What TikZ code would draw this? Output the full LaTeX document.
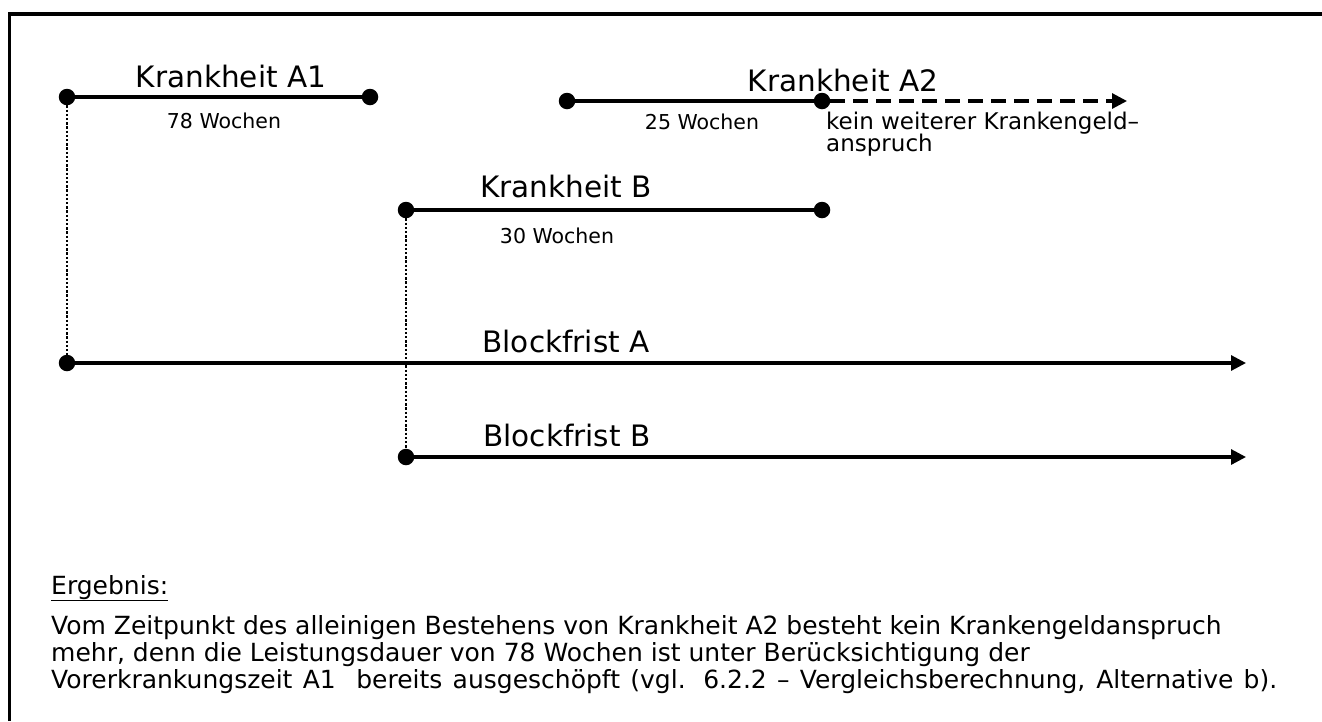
\documentclass[tikz,border=0pt]{standalone}
\usepackage{fontspec}
\setmainfont{DejaVu Sans}
\usetikzlibrary{arrows.meta}
\begin{document}
\begin{tikzpicture}[x=1pt,y=-1pt,
  dot/.style={circle,fill=black,inner sep=0pt,minimum size=16.5pt},
  tline/.style={line width=3.1pt},
  arr/.style={line width=3.1pt,-{Triangle[length=15pt,width=15pt]}},
  dashline/.style={line width=3.1pt,dash pattern=on 15pt off 8pt,-{Triangle[length=15pt,width=15pt]}},
  vline/.style={line width=2.6pt,dash pattern=on 2.4pt off 1.8pt},
  title/.style={font=\fontsize{29.5}{34}\selectfont,inner sep=0pt,anchor=base},
  lbl/.style={font=\fontsize{20.5}{24}\selectfont,inner sep=0pt,anchor=base},
  note/.style={font=\fontsize{23}{26}\selectfont,inner sep=0pt,anchor=base west},
  body/.style={font=\fontsize{25}{30}\selectfont,inner sep=0pt,anchor=base west}]
\useasboundingbox (0,0) rectangle (1322,721);
\fill[white] (0,0) rectangle (1322,721);
% frame
\coordinate (fbl) at (9.5,721);
\coordinate (ftl) at (9.5,13.7);
\coordinate (ftr) at (1322,13.7);
\draw[line width=3.8pt] (fbl) -- (ftl) -- (ftr);

% Krankheit A1
\node[dot] (a1s) at (67,97) {};
\node[dot] (a1e) at (370,97) {};
\draw[tline] (a1s) -- (a1e);
\node[title] (ta1) at (231,87) {Krankheit A1};
\node[lbl] (wa1) at (224,128) {78 Wochen};

% Krankheit A2
\node[dot] (a2s) at (567,101) {};
\node[dot] (a2m) at (822,101) {};
\coordinate (a2e) at (1127,101);
\draw[tline] (a2s) -- (a2m);
\draw[dashline] (a2m) -- (a2e);
\node[title] (ta2) at (843,91) {Krankheit A2};
\node[lbl] (wa2) at (702,129) {25 Wochen};
\node[note] (kw1) at (826,129) {kein weiterer Krankengeld–};
\node[note] (kw2) at (826,151) {anspruch};

% Krankheit B
\node[dot] (bs) at (406,210) {};
\node[dot] (be) at (822,210) {};
\draw[tline] (bs) -- (be);
\node[title] (tb) at (566,197) {Krankheit B};
\node[lbl] (wb) at (557,243) {30 Wochen};

% Blockfrist A
\node[dot] (bas) at (67,363) {};
\coordinate (bae) at (1246,363);
\draw[arr] (bas) -- (bae);
\node[title] (tba) at (566,352) {Blockfrist A};

% Blockfrist B
\node[dot] (bbs) at (406,457) {};
\coordinate (bbe) at (1246,457);
\draw[arr] (bbs) -- (bbe);
\node[title] (tbb) at (567,446) {Blockfrist B};

% dotted verticals
\draw[vline] (a1s) -- (bas);
\draw[vline] (bs) -- (bbs);

% result text
\node[body] (erg) at (51,594) {\underline{Ergebnis:}};
\node[body] (r1) at (51,634) {Vom Zeitpunkt des alleinigen Bestehens von Krankheit A2 besteht kein Krankengeldanspruch};
\node[body] (r2) at (51,661) {mehr, denn die Leistungsdauer von 78 Wochen ist unter Berücksichtigung der};
\node[body] (r3) at (51,688) {\makebox[1226pt][s]{Vorerkrankungszeit A1\ \ bereits ausgeschöpft (vgl. 6.2.2 – Vergleichsberechnung, Alternative b).}};
\end{tikzpicture}
\end{document}
